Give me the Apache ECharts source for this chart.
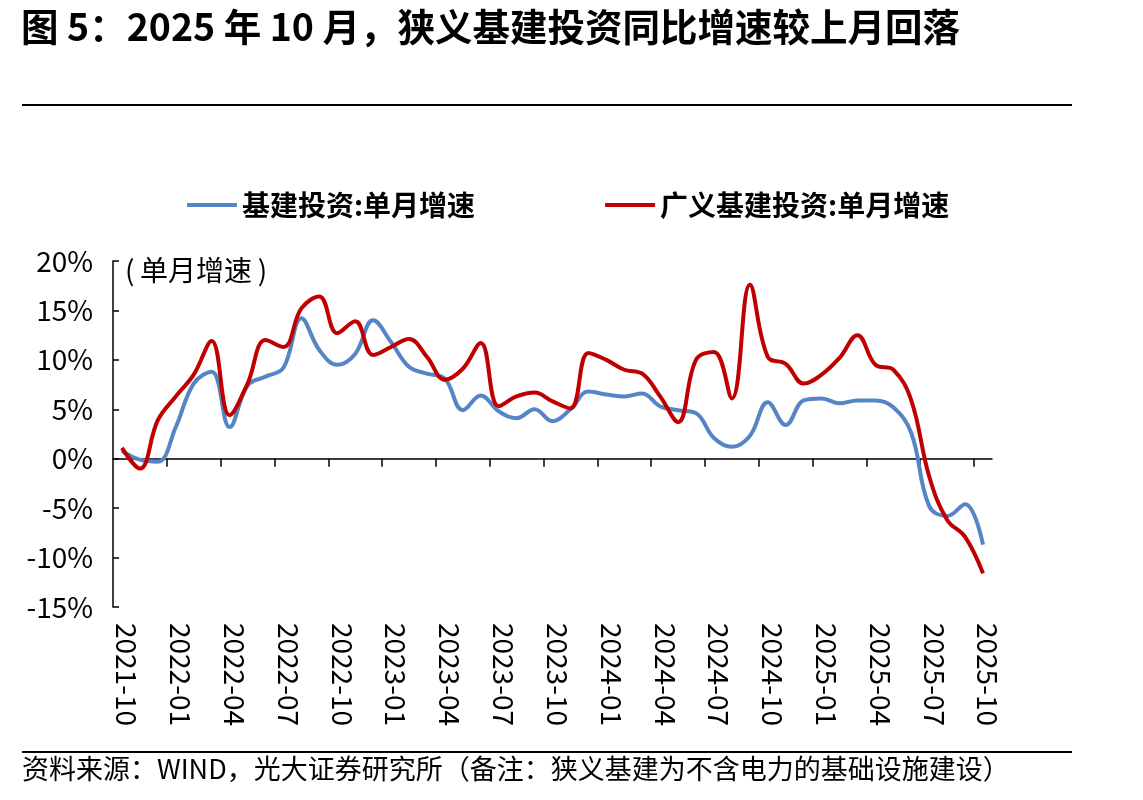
<!DOCTYPE html>
<html>
<head>
<meta charset="utf-8">
<script src="https://cdn.jsdelivr.net/npm/echarts@6/dist/echarts.min.js"></script>
<style>
html, body { margin: 0; padding: 0; background: #fff; }
#main { width: 1143px; height: 800px; }
</style>
</head>
<body>
<div id="main"></div>
<script>
// 月份（每月一个点）
var months = [
    '2021-10', '2021-11', '2021-12',
    '2022-01', '2022-02', '2022-03', '2022-04', '2022-05', '2022-06',
    '2022-07', '2022-08', '2022-09', '2022-10', '2022-11', '2022-12',
    '2023-01', '2023-02', '2023-03', '2023-04', '2023-05', '2023-06',
    '2023-07', '2023-08', '2023-09', '2023-10', '2023-11', '2023-12',
    '2024-01', '2024-02', '2024-03', '2024-04', '2024-05', '2024-06',
    '2024-07', '2024-08', '2024-09', '2024-10', '2024-11', '2024-12',
    '2025-01', '2025-02', '2025-03', '2025-04', '2025-05', '2025-06',
    '2025-07', '2025-08', '2025-09', '2025-10'
];
// 基建投资:单月增速（%）
var narrowInfra = [
    0.8, -0.1, -0.3, 3.2, 7.6, 8.8, 3.2, 7.4, 8.3, 9.2,
    14.2, 11.0, 9.5, 10.6, 14.0, 11.8, 9.3, 8.6, 8.1, 4.9,
    6.4, 4.8, 4.1, 5.0, 3.8, 5.0, 6.8, 6.5, 6.3, 6.6,
    5.3, 4.9, 4.6, 2.1, 1.2, 2.3, 5.7, 3.4, 5.9, 6.1,
    5.6, 5.9, 5.9, 5.2, 2.6, -4.8, -5.8, -4.6, -8.7
];
// 广义基建投资:单月增速（%）
var broadInfra = [
    1.1, -1.0, 3.9, 6.3, 8.5, 11.9, 4.4, 7.6, 12.0, 11.3,
    15.2, 16.4, 12.7, 13.9, 10.5, 11.3, 12.1, 10.3, 8.0, 9.1,
    11.7, 5.3, 6.3, 6.7, 5.8, 5.1, 10.7, 10.0, 9.0, 8.6,
    6.3, 3.7, 10.0, 10.8, 6.1, 17.6, 10.3, 9.6, 7.6, 8.5,
    10.2, 12.5, 9.5, 9.0, 5.9, -1.8, -6.2, -7.9, -11.6
];
var seriesNames = ['基建投资:单月增速', '广义基建投资:单月增速'];
var yMin = -15, yMax = 20, yStep = 5;

// 刻度每 3 个月一个
var labelIdx = [];
for (var k = 0; k < months.length; k += 3) labelIdx.push(k);
var tickIdx = labelIdx.slice(1);

// 数据点画在月中
function toPairs(arr) {
    return arr.map(function (v, i) { return [i + 0.5, v]; });
}

var font = 'Noto Sans CJK SC';
var myChart = echarts.init(document.getElementById('main'));

var option = {
    animation: false,
    backgroundColor: '#fff',
    textStyle: { fontFamily: font },
    grid: { left: 113, right: 151, top: 261, bottom: 193 },
    legend: {
        data: seriesNames,
        left: 182,
        top: 186,
        icon: 'rect',
        itemWidth: 50,
        itemHeight: 4,
        itemGap: 130,
        textStyle: { fontSize: 28, fontWeight: 'bold', color: '#000', fontFamily: font }
    },
    xAxis: [{
        type: 'value',
        min: 0,
        max: months.length,
        interval: 3,
        axisLine: { onZero: true, lineStyle: { color: '#000', width: 1.5 } },
        axisTick: { customValues: tickIdx, length: 8, lineStyle: { color: '#000', width: 1.5 } },
        axisLabel: { show: false },
        splitLine: { show: false }
    }, {
        type: 'value',
        position: 'bottom',
        min: 0,
        max: months.length,
        interval: 3,
        axisLine: { show: false, onZero: false },
        axisTick: { show: false },
        axisLabel: {
            customValues: labelIdx,
            formatter: function (v) { return months[v] || ''; },
            rotate: -90,
            verticalAlign: 'bottom',
            margin: 16,
            fontSize: 28,
            color: '#000',
            fontFamily: font
        },
        splitLine: { show: false }
    }],
    yAxis: {
        type: 'value',
        min: yMin,
        max: yMax,
        interval: yStep,
        axisLine: { show: true, onZero: false, lineStyle: { color: '#000', width: 1.5 } },
        axisTick: { show: true, inside: true, length: 6, lineStyle: { color: '#000', width: 1.5 } },
        axisLabel: { formatter: '{value}%', fontSize: 28, color: '#000', margin: 20, fontFamily: font },
        splitLine: { show: false }
    },
    series: [{
        name: seriesNames[0],
        type: 'line',
        data: toPairs(narrowInfra),
        smooth: 0.4,
        showSymbol: false,
        color: '#5585C5',
        lineStyle: { width: 4, color: '#5585C5' }
    }, {
        name: seriesNames[1],
        type: 'line',
        data: toPairs(broadInfra),
        smooth: 0.4,
        showSymbol: false,
        color: '#C00000',
        lineStyle: { width: 4, color: '#C00000' }
    }],
    graphic: [{
        type: 'text',
        left: 21,
        top: 8,
        style: {
            text: '图 5：2025 年 10 月，狭义基建投资同比增速较上月回落',
            font: 'bold 37.5px "Noto Sans CJK SC"',
            fill: '#000'
        }
    }, {
        type: 'line',
        shape: { x1: 22, y1: 105, x2: 1072, y2: 105 },
        style: { stroke: '#000', lineWidth: 2 }
    }, {
        type: 'text',
        left: 125,
        top: 256,
        style: { text: '(\u2009单月增速\u2009)', font: '28px "Noto Sans CJK SC"', fill: '#000' }
    }, {
        type: 'line',
        shape: { x1: 22, y1: 752, x2: 1072, y2: 752 },
        style: { stroke: '#000', lineWidth: 2 }
    }, {
        type: 'text',
        left: 22,
        top: 755,
        style: {
            text: '资料来源：WIND，光大证券研究所（备注：狭义基建为不含电力的基础设施建设）',
            font: '27px "Noto Sans CJK SC"',
            fill: '#000'
        }
    }]
};
myChart.setOption(option);
</script>
</body>
</html>
